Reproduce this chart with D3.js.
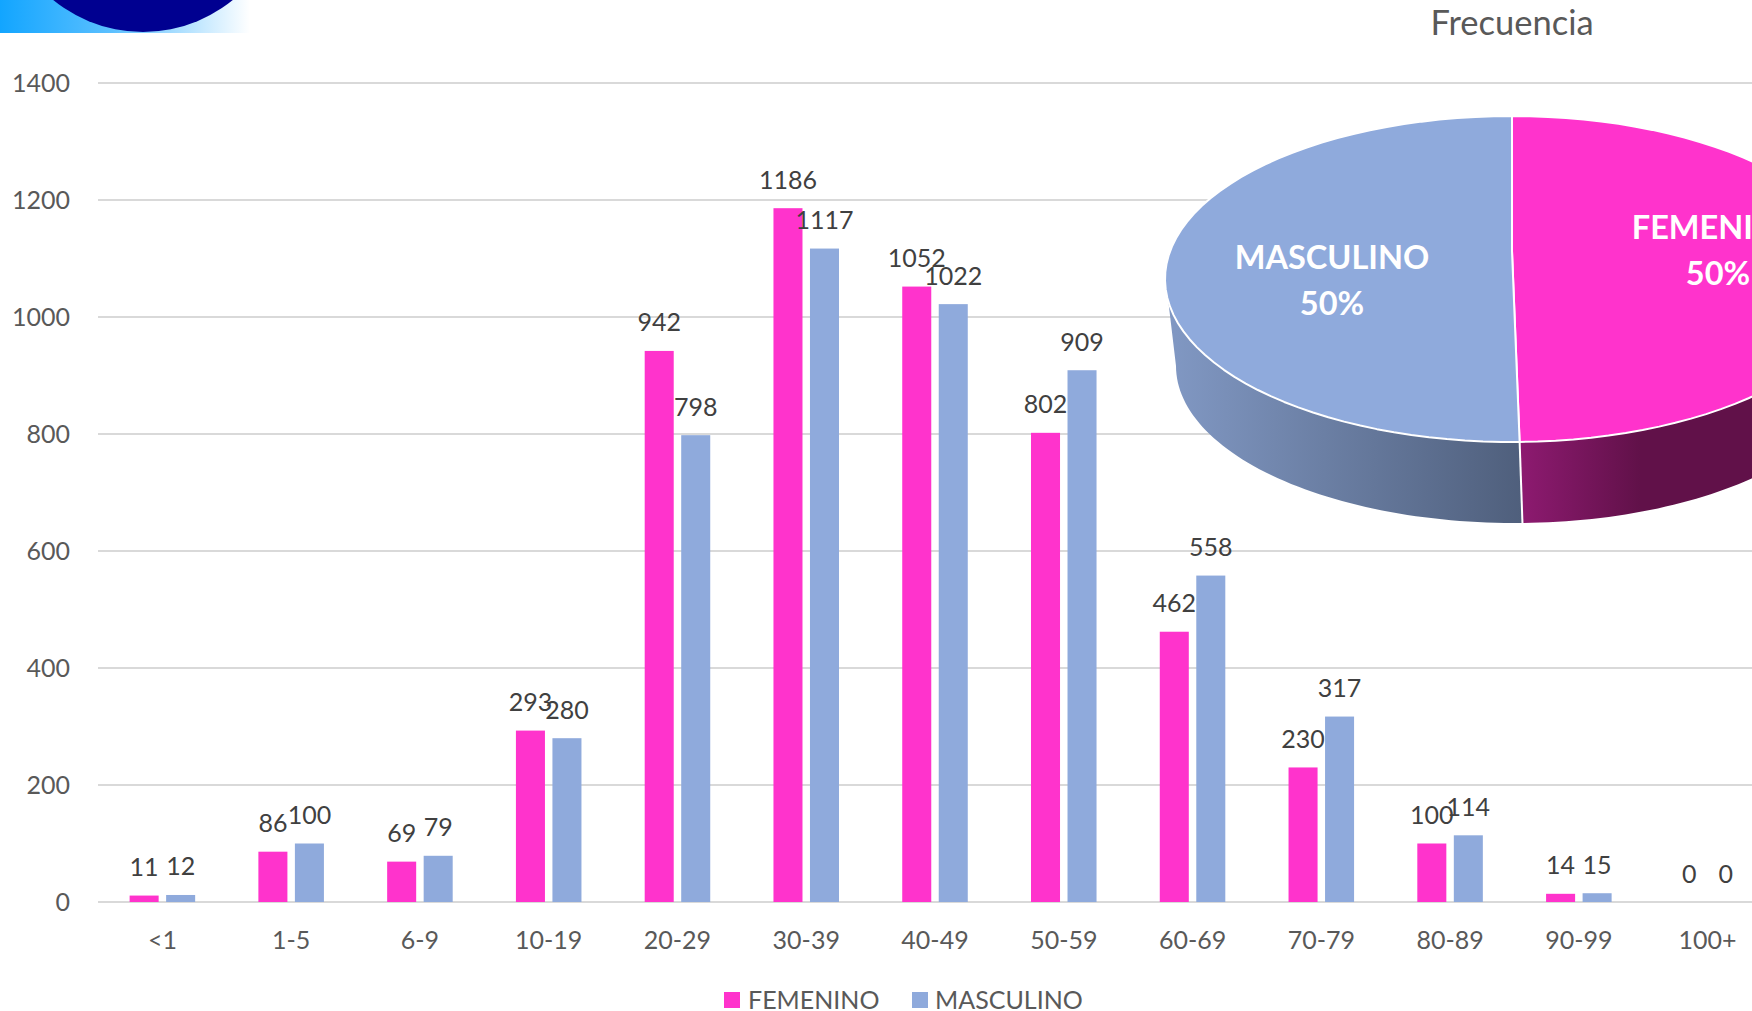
<!DOCTYPE html>
<html>
<head>
<meta charset="utf-8">
<script src="https://cdn.jsdelivr.net/npm/d3@7"></script>
<style>
  html, body { margin: 0; padding: 0; background: #fff; overflow: hidden; }
  text { font-family: Lato, "Open Sans", sans-serif; }
</style>
</head>
<body>
<svg id="chart" width="1752" height="1011"></svg>
<script>
const categories = ['<1', '1-5', '6-9', '10-19', '20-29', '30-39', '40-49', '50-59', '60-69', '70-79', '80-89', '90-99', '100+'];
const femenino = [11, 86, 69, 293, 942, 1186, 1052, 802, 462, 230, 100, 14, 0];
const masculino = [12, 100, 79, 280, 798, 1117, 1022, 909, 558, 317, 114, 15, 0];
const yTicks = [0, 200, 400, 600, 800, 1000, 1200, 1400];
const seriesNames = ['FEMENINO', 'MASCULINO'];
const pieTitle = 'Frecuencia';

const PINK = '#ff33cc';
const BLUE = '#8faadc';
const TICK_COLOR = '#595959';

const svg = d3.select('#chart');
const defs = svg.append('defs');

// plot area, the right end runs off the page like in the original
const margin = { top: 83, left: 98, bottom: 902, right: 1772 };

const x = d3.scaleBand().domain(categories).range([margin.left, margin.right]);
const xSub = d3.scaleBand().domain(seriesNames).range([0, x.bandwidth()])
  .paddingInner(0.205).paddingOuter(0.866);
const y = d3.scaleLinear().domain([0, 1400]).range([margin.bottom, margin.top]);
const color = d3.scaleOrdinal().domain(seriesNames).range([PINK, BLUE]);

// logo corner
const logoGrad = defs.append('linearGradient').attr('id', 'logo-grad');
logoGrad.append('stop').attr('offset', '0%').attr('stop-color', '#12a5ff');
logoGrad.append('stop').attr('offset', '45%').attr('stop-color', '#5cc0ff');
logoGrad.append('stop').attr('offset', '100%').attr('stop-color', '#ffffff');
svg.append('rect').attr('x', 0).attr('y', 0).attr('width', 250).attr('height', 33).attr('fill', 'url(#logo-grad)');
svg.append('circle').attr('cx', 143).attr('cy', -110).attr('r', 142).attr('fill', '#000090');

// grid and y axis
const yAxis = d3.axisLeft(y).tickValues(yTicks).tickFormat(d3.format('d')).tickSize(0).tickPadding(28);
const yG = svg.append('g').attr('transform', `translate(${margin.left},0)`).call(yAxis);
yG.select('.domain').remove();
yG.selectAll('text').attr('font-size', 25).attr('fill', TICK_COLOR).attr('font-family', 'Lato');

svg.append('g').selectAll('line').data(yTicks).join('line')
  .attr('x1', margin.left).attr('x2', margin.right)
  .attr('y1', d => y(d)).attr('y2', d => y(d))
  .attr('stroke', '#d9d9d9').attr('stroke-width', 2);

// x axis
const xAxis = d3.axisBottom(x).tickSize(0).tickPadding(29);
const xG = svg.append('g').attr('transform', `translate(0,${margin.bottom})`).call(xAxis);
xG.select('.domain').remove();
xG.selectAll('text').attr('font-size', 25).attr('fill', TICK_COLOR).attr('font-family', 'Lato');

// bars and labels
const rows = categories.map((c, i) => [
  { cat: c, name: seriesNames[0], value: femenino[i] },
  { cat: c, name: seriesNames[1], value: masculino[i] }
]).flat();

svg.append('g').selectAll('rect').data(rows).join('rect')
  .attr('x', d => x(d.cat) + xSub(d.name))
  .attr('y', d => y(d.value))
  .attr('width', xSub.bandwidth())
  .attr('height', d => y(0) - y(d.value))
  .attr('fill', d => color(d.name));

svg.append('g').selectAll('text').data(rows).join('text')
  .attr('x', d => x(d.cat) + xSub(d.name) + xSub.bandwidth() / 2)
  .attr('y', d => y(d.value) - 19.5)
  .attr('text-anchor', 'middle')
  .attr('font-size', 25)
  .attr('fill', '#404040')
  .text(d => d.value);

// legend
const legendItems = [
  { name: seriesNames[0], box: 724, label: 748 },
  { name: seriesNames[1], box: 912, label: 935 }
];
const legend = svg.append('g');
legend.selectAll('rect').data(legendItems).join('rect')
  .attr('x', d => d.box).attr('y', 992)
  .attr('width', 16).attr('height', 16)
  .attr('fill', d => color(d.name));
legend.selectAll('text').data(legendItems).join('text')
  .attr('x', d => d.label).attr('y', 1009)
  .attr('font-size', 25)
  .attr('fill', TICK_COLOR)
  .text(d => d.name);

// pie, drawn on a tilted ellipse so the top face and wall are two rims
const topRim = { cx: 1512, cy: 279, rx: 347, ry: 163 };
const lowRim = { cx: 1515, cy: 366, rx: 339, ry: 157 };
const pieHub = [1512, 251];
const WALL_START = 262 * Math.PI / 180;

const rimPoint = (rim, a) => [rim.cx + rim.rx * Math.sin(a), rim.cy - rim.ry * Math.cos(a)];
const rimPoints = (rim, a0, a1) => d3.range(0, 61).map(i => rimPoint(rim, a0 + (a1 - a0) * i / 60));
const line = d3.line();

const pieValues = [d3.sum(femenino), d3.sum(masculino)];
const slices = d3.pie().sort(null)(pieValues);
const [femSlice, masSlice] = slices;

const addGrad = (id, x1, x2, from, to) => {
  const g = defs.append('linearGradient').attr('id', id)
    .attr('gradientUnits', 'userSpaceOnUse')
    .attr('x1', x1).attr('x2', x2).attr('y1', 0).attr('y2', 0);
  g.append('stop').attr('offset', '0%').attr('stop-color', from);
  g.append('stop').attr('offset', '100%').attr('stop-color', to);
};
addGrad('wall-blue', lowRim.cx - lowRim.rx, 1522, '#8097c2', '#4f5f7c');
addGrad('wall-pink', 1522, 1640, '#8d1a70', '#611149');

const pieG = svg.append('g');

// walls
pieG.append('path')
  .attr('d', line([...rimPoints(topRim, WALL_START, masSlice.startAngle), ...rimPoints(lowRim, masSlice.startAngle, 1.5 * Math.PI)]) + 'Z')
  .attr('fill', 'url(#wall-blue)');
pieG.append('path')
  .attr('d', line([...rimPoints(topRim, Math.PI / 2, femSlice.endAngle), ...rimPoints(lowRim, femSlice.endAngle, Math.PI / 2)]) + 'Z')
  .attr('fill', 'url(#wall-pink)');
pieG.append('path')
  .attr('d', line([rimPoint(topRim, femSlice.endAngle), rimPoint(lowRim, femSlice.endAngle)]))
  .attr('stroke', '#fff').attr('stroke-width', 2).attr('fill', 'none');

// top face
pieG.selectAll('path.face').data(slices).join('path')
  .attr('class', 'face')
  .attr('d', d => line([pieHub, ...rimPoints(topRim, d.startAngle, d.endAngle)]) + 'Z')
  .attr('fill', (d, i) => color(seriesNames[i]))
  .attr('stroke', '#fff').attr('stroke-width', 2).attr('stroke-linejoin', 'round');

// pie labels, percent comes from the same values
const total = d3.sum(pieValues);
const pieLabels = [
  { name: seriesNames[0], value: pieValues[0], cx: 1718, y1: 239, y2: 285 },
  { name: seriesNames[1], value: pieValues[1], cx: 1332, y1: 269, y2: 315 }
];
pieLabels.forEach(l => {
  const t = pieG.append('text').attr('text-anchor', 'middle').attr('font-size', 32.5)
    .attr('font-weight', 700).attr('fill', '#fff');
  t.append('tspan').attr('x', l.cx).attr('y', l.y1).text(l.name);
  t.append('tspan').attr('x', l.cx).attr('y', l.y2).text(d3.format('.0%')(l.value / total));
});

svg.append('text')
  .attr('x', 1512).attr('y', 35)
  .attr('text-anchor', 'middle')
  .attr('font-size', 34.5)
  .attr('fill', TICK_COLOR)
  .text(pieTitle);
</script>
</body>
</html>
